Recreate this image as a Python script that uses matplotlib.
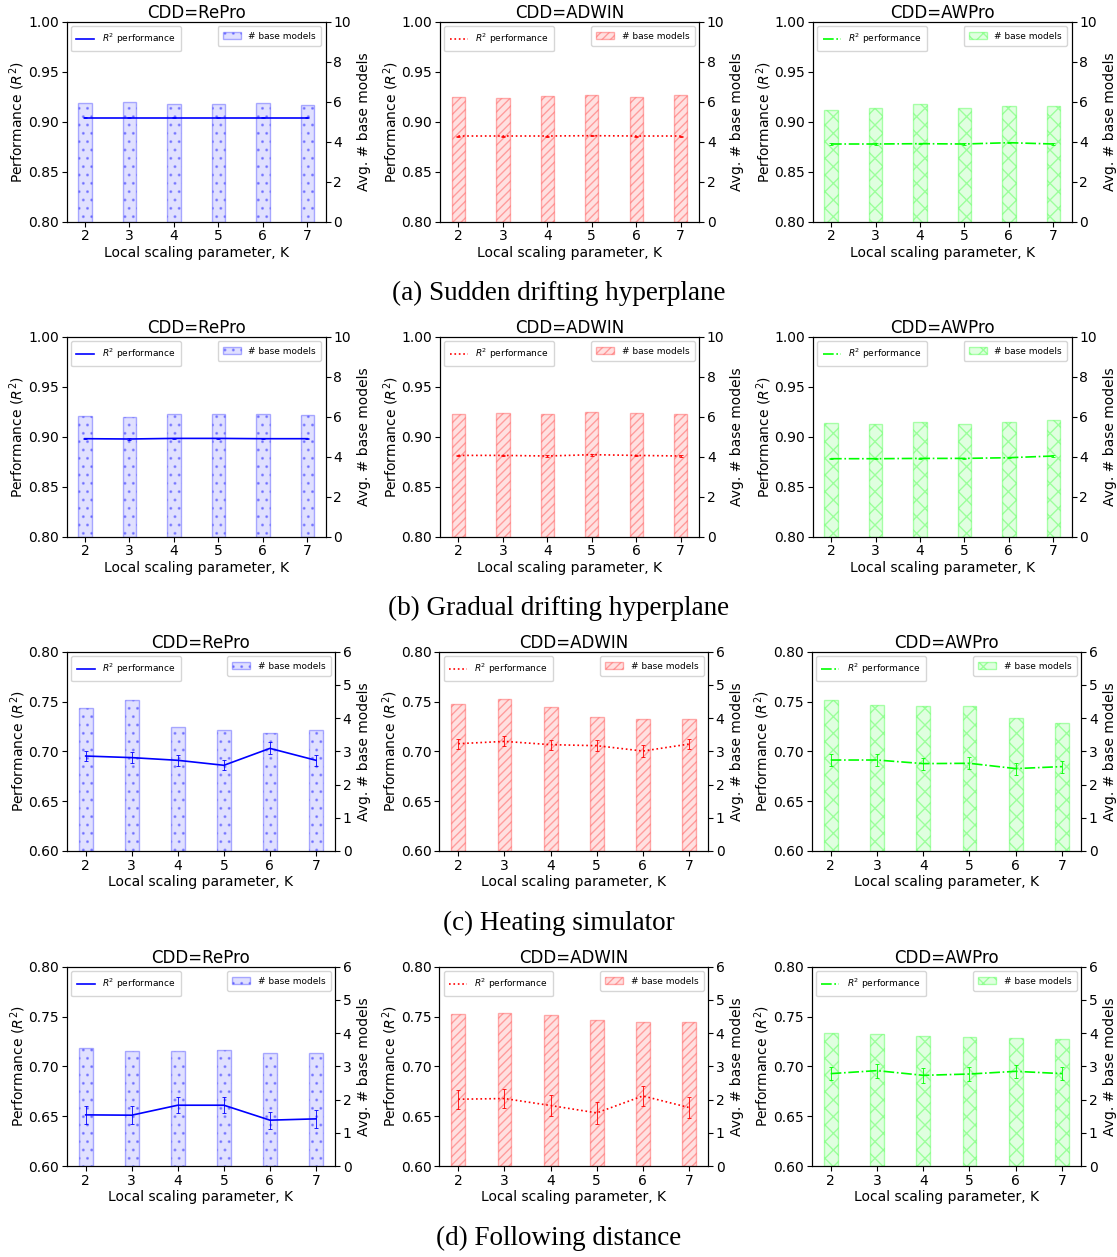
"""Sensitivity of the ensemble to the local scaling parameter K.

Four datasets (rows) x three concept drift detectors (columns). Each panel
shows the R^2 performance (line, left axis) and the average number of base
models (bars, right axis).
"""

import matplotlib

matplotlib.use("Agg")
import matplotlib.pyplot as plt

K = [2, 3, 4, 5, 6, 7]
DETECTORS = ["RePro", "ADWIN", "AWPro"]
CAPTIONS = [
    "(a) Sudden drifting hyperplane",
    "(b) Gradual drifting hyperplane",
    "(c) Heating simulator",
    "(d) Following distance",
]

# (a) sudden drifting hyperplane
sudden_r2 = [
    [0.904, 0.904, 0.904, 0.904, 0.904, 0.904],
    [0.8857, 0.8857, 0.8857, 0.886, 0.8857, 0.8857],
    [0.8777, 0.8777, 0.878, 0.8777, 0.879, 0.8777],
]
sudden_err = [
    [0.0005, 0.0005, 0.0005, 0.0005, 0.0005, 0.0005],
    [0.0005, 0.0005, 0.0005, 0.0005, 0.0005, 0.0005],
    [0.0006, 0.0006, 0.0006, 0.0006, 0.0006, 0.0006],
]
sudden_models = [
    [5.92, 5.97, 5.88, 5.87, 5.92, 5.82],
    [6.22, 6.17, 6.27, 6.32, 6.23, 6.32],
    [5.58, 5.70, 5.87, 5.70, 5.80, 5.78],
]

# (b) gradual drifting hyperplane
gradual_r2 = [
    [0.898, 0.8977, 0.8983, 0.8983, 0.898, 0.898],
    [0.8813, 0.8813, 0.8807, 0.882, 0.8813, 0.8807],
    [0.878, 0.878, 0.8783, 0.8783, 0.879, 0.8807],
]
gradual_err = [
    [0.0006, 0.0006, 0.0006, 0.0006, 0.0006, 0.0006],
    [0.0008, 0.0008, 0.0008, 0.0008, 0.0008, 0.0008],
    [0.0007, 0.0007, 0.0007, 0.0007, 0.0007, 0.0008],
]
gradual_models = [
    [6.05, 5.97, 6.15, 6.13, 6.15, 6.08],
    [6.12, 6.17, 6.13, 6.22, 6.17, 6.12],
    [5.67, 5.62, 5.73, 5.62, 5.72, 5.82],
]

# (c) heating simulator
heating_r2 = [
    [0.6953, 0.6937, 0.691, 0.686, 0.703, 0.691],
    [0.7077, 0.710, 0.7067, 0.7057, 0.7003, 0.7073],
    [0.6913, 0.6913, 0.6877, 0.688, 0.6827, 0.6847],
]
heating_err = [
    [0.005, 0.0055, 0.0053, 0.005, 0.006, 0.0057],
    [0.005, 0.005, 0.005, 0.0053, 0.006, 0.0053],
    [0.006, 0.006, 0.006, 0.006, 0.006, 0.006],
]
heating_models = [
    [4.31, 4.55, 3.74, 3.65, 3.56, 3.63],
    [4.43, 4.59, 4.35, 4.02, 3.96, 3.98],
    [4.55, 4.41, 4.37, 4.37, 4.01, 3.86],
]

# (d) following distance
following_r2 = [
    [0.6513, 0.651, 0.661, 0.661, 0.646, 0.6473],
    [0.667, 0.6677, 0.6607, 0.6533, 0.6703, 0.6587],
    [0.6927, 0.6957, 0.691, 0.6923, 0.695, 0.6927],
]
following_err = [
    [0.009, 0.009, 0.008, 0.008, 0.0085, 0.009],
    [0.0097, 0.0097, 0.0103, 0.0107, 0.0097, 0.0103],
    [0.0067, 0.007, 0.0073, 0.007, 0.0065, 0.0068],
]
following_models = [
    [3.56, 3.46, 3.47, 3.50, 3.40, 3.40],
    [4.59, 4.61, 4.55, 4.41, 4.34, 4.34],
    [4.01, 3.97, 3.90, 3.89, 3.86, 3.82],
]

ROWS = [
    (sudden_r2, sudden_err, sudden_models, (0.80, 1.00), 10),
    (gradual_r2, gradual_err, gradual_models, (0.80, 1.00), 10),
    (heating_r2, heating_err, heating_models, (0.60, 0.80), 6),
    (following_r2, following_err, following_models, (0.60, 0.80), 6),
]

# per-detector look: line colour, line style, bar hatch
STYLE = {
    "RePro": {"color": (0, 0, 1), "ls": "-", "hatch": ".."},
    "ADWIN": {"color": (1, 0, 0), "ls": ":", "hatch": "////"},
    "AWPro": {"color": (0, 1, 0), "ls": "-.", "hatch": "xx"},
}

W, H = 1117, 1257
# axes boxes in pixels (left, right) per column; two layouts (10-scale / 6-scale rows)
COLS_WIDE_LABEL = [(66.5, 325.8), (439.9, 699.2), (812.6, 1071.8)]
COLS_NARROW_LABEL = [(66.6, 335.1), (439.2, 708.1), (811.5, 1081.2)]
ROW_TOPS = [21.7, 336.7, 651.7, 966.7]
ROW_BOTTOMS = [221.7, 536.7, 851.0, 1166.0]
CAPTION_Y = [293, 608, 923, 1238]


def panel(fig, box, det, r2, err, models, ylim, nmax):
    ax = fig.add_axes(box)
    ax2 = ax.twinx()
    ax.set_zorder(ax2.get_zorder() + 1)  # keep the line on top of the bars
    ax.patch.set_visible(False)

    st = STYLE[det]
    c = st["color"]
    ax2.bar(
        K,
        models,
        width=0.3,
        facecolor=c + (0.12,),
        edgecolor=c + (0.3,),
        hatch=st["hatch"],
        linewidth=1.0,
        label="# base models",
    )
    ax.errorbar(
        K,
        r2,
        yerr=err,
        color=c,
        linestyle="none",
        elinewidth=0.6,
        capsize=1.5,
        capthick=0.6,
    )
    ax.plot(K, r2, color=c, linestyle=st["ls"], linewidth=1.2, label="$R^2$ performance")

    ax.set_ylim(*ylim)
    ax.set_yticks([ylim[0] + 0.05 * i for i in range(5)])
    ax.yaxis.set_major_formatter(matplotlib.ticker.FormatStrFormatter("%.2f"))
    ax2.set_ylim(0, nmax)
    ax2.set_yticks(range(0, nmax + 1, 2 if nmax == 10 else 1))
    ax.set_xlim(1.585, 7.415)
    ax.set_xticks(K)

    ax.set_title(f"CDD={det}", fontsize=12, pad=3)
    ax.set_xlabel("Local scaling parameter, K", fontsize=10, labelpad=2)
    ax.set_ylabel("Performance ($R^2$)", fontsize=10, labelpad=0.5)
    ax2.set_ylabel("Avg. # base models", fontsize=10, labelpad=4)
    ax.tick_params(labelsize=10, pad=2)
    ax2.tick_params(labelsize=10, pad=2)

    ax.legend(loc="upper left", fontsize=6.5, borderpad=0.6)
    ax2.legend(loc="upper right", fontsize=6.5, borderpad=0.6)


def main():
    fig = plt.figure(figsize=(W / 100, H / 100), dpi=100)
    for r, (r2s, errs, models, ylim, nmax) in enumerate(ROWS):
        cols = COLS_WIDE_LABEL if nmax == 10 else COLS_NARROW_LABEL
        top, bot = ROW_TOPS[r], ROW_BOTTOMS[r]
        for c, det in enumerate(DETECTORS):
            x0, x1 = cols[c]
            box = [x0 / W, 1 - bot / H, (x1 - x0) / W, (bot - top) / H]
            panel(fig, box, det, r2s[c], errs[c], models[c], ylim, nmax)
        fig.text(
            0.5,
            1 - CAPTION_Y[r] / H,
            CAPTIONS[r],
            ha="center",
            va="center",
            fontsize=19.5,
            family="Liberation Serif",
        )
    fig.savefig("out.png", dpi=100)


if __name__ == "__main__":
    main()
